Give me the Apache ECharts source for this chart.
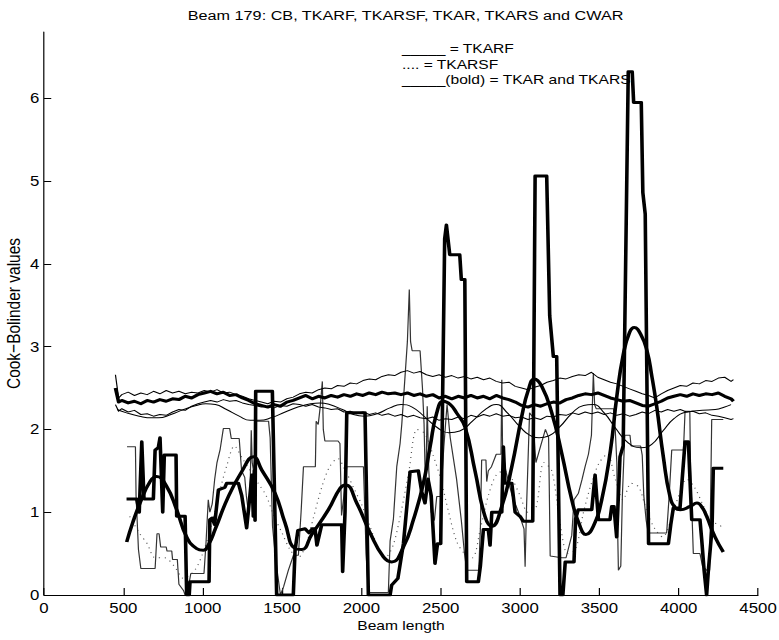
<!DOCTYPE html>
<html>
<head>
<meta charset="utf-8">
<script src="https://cdn.jsdelivr.net/npm/echarts@6/dist/echarts.min.js"></script>
<style>
  html, body { margin: 0; padding: 0; background: #fff; overflow: hidden; }
  #wrap { width: 779px; height: 640px; overflow: hidden; position: relative; }
  /* figure is laid out narrow and widened, like a resized MATLAB window */
  #chart { width: 649px; height: 640px; transform: scaleX(1.2); transform-origin: 0 0; }
</style>
</head>
<body>
<div id="wrap"><div id="chart"></div></div>
<script>
// ---- axis ticks ----
const xTicks = [0, 500, 1000, 1500, 2000, 2500, 3000, 3500, 4000, 4500];
const yTicks = [0, 1, 2, 3, 4, 5, 6];

// ---- TKAR: bold stepped curve ----
const tkar = [
  [520,1.16],[584,1.16],[600,1.0],[616,1.85],[630,1.16],[689,1.16],[700,1.75],[720,1.78],[731,1.9],[748,1.0],
  [758,1.69],[832,1.69],[836,0.95],[889,0.95],[899,0],[915,0],[920,0.16],[1040,0.16],[1045,0.91],[1060,0.93],
  [1075,0.85],[1099,1.27],[1140,1.3],[1151,1.35],[1225,1.35],[1246,1.2],[1277,0.81],[1300,1.25],[1310,1.45],[1319,0.95],
  [1325,1.5],[1330,0.9],[1334,2.46],[1439,2.46],[1466,0],[1571,0],[1582,0.54],[1600,0.78],[1645,0.8],[1670,0.75],
  [1690,0.8],[1708,0.8],[1720,0.6],[1750,0.85],[1876,0.85],[1882,0.28],[1897,1.0],[1908,2.2],[2023,2.2],[2044,0],
  [2181,0],[2191,0.12],[2230,0.2],[2265,0.62],[2307,1.49],[2359,1.5],[2380,1.25],[2401,1.11],[2420,1.4],[2440,1.2],
  [2464,0.38],[2480,0.62],[2500,0.62],[2525,4.3],[2536,4.47],[2557,4.11],[2620,4.11],[2630,3.81],[2652,3.81],[2664,0.16],
  [2737,0.16],[2750,0.35],[2769,0.79],[2800,0.79],[2811,0.6],[2822,1.0],[2885,1.0],[2895,1.79],[2905,1.35],[2948,1.35],
  [2969,1.0],[3000,0.95],[3021,0.89],[3080,0.89],[3095,5.06],[3168,5.06],[3187,3.37],[3210,2.88],[3231,2.88],[3252,0],
  [3270,0],[3285,0.4],[3340,0.4],[3350,0.92],[3367,1.03],[3452,1.03],[3473,1.45],[3494,0.91],[3567,0.91],[3578,1.07],
  [3592,1.07],[3599,0.91],[3609,0.7],[3630,1.67],[3650,1.8],[3682,6.32],[3707,6.32],[3716,5.95],[3764,5.95],[3774,4.86],
  [3789,4.6],[3810,0.62],[3935,0.62],[3950,0.85],[3966,1.05],[4008,1.05],[4040,1.85],[4061,1.85],[4082,0.91],[4134,0.91],
  [4145,0.67],[4160,0.3],[4176,0],[4187,0.3],[4210,0.8],[4218,1.53],[4281,1.53]
];

// ---- TKARS: bold smooth curve ----
const tkars = [
  [521,0.64],[560,0.88],[605,1.11],[668,1.37],[710,1.43],[773,1.31],[836,1.03],[899,0.7],[962,0.56],[1004,0.54],
  [1040,0.62],[1078,0.79],[1162,1.19],[1246,1.49],[1319,1.67],[1372,1.51],[1456,1.23],[1519,0.87],[1582,0.56],[1624,0.55],
  [1687,0.73],[1792,1.03],[1866,1.29],[1900,1.33],[1971,1.11],[2055,0.75],[2139,0.46],[2191,0.40],[2265,0.58],[2328,0.91],
  [2391,1.35],[2433,1.79],[2475,2.2],[2517,2.34],[2560,2.3],[2600,2.2],[2653,2.03],[2716,1.5],[2779,0.95],[2822,0.83],
  [2885,1.07],[2948,1.55],[3011,2.16],[3053,2.48],[3090,2.61],[3137,2.52],[3200,2.2],[3263,1.71],[3326,1.15],[3378,0.83],
  [3415,0.73],[3462,0.83],[3515,1.15],[3570,1.75],[3610,2.4],[3650,2.9],[3690,3.17],[3720,3.23],[3760,3.15],[3800,2.95],
  [3830,2.65],[3861,2.28],[3903,1.67],[3945,1.19],[3980,1.05],[4010,1.03],[4071,1.07],[4115,1.11],[4150,1.05],[4176,0.95],
  [4229,0.7],[4281,0.52]
];

// ---- TKARF: thin stepped curve ----
const tkarf = [
  [523,1.79],[576,1.79],[580,1.2],[595,0.55],[610,0.32],[700,0.32],[712,0.74],[725,0.74],[735,0.58],[770,0.58],
  [775,0.53],[805,0.53],[810,0.43],[840,0.43],[850,0.13],[880,0.05],[889,0],[910,0.1],[925,0.26],[1008,0.26],
  [1020,0.6],[1035,1.15],[1045,1.0],[1060,1.1],[1075,1.39],[1090,1.6],[1110,1.76],[1130,2.01],[1170,2.01],[1180,1.89],
  [1230,1.89],[1245,1.5],[1265,1.42],[1275,1.2],[1290,0.97],[1300,1.4],[1306,1.99],[1312,1.6],[1320,1.5],[1330,1.7],
  [1337,2.1],[1415,2.1],[1425,1.9],[1440,0.83],[1455,0.53],[1470,0.28],[1490,0],[1510,0.1],[1540,0.3],[1572,0.48],
  [1603,0.48],[1620,1.0],[1635,1.55],[1710,1.55],[1715,2.1],[1728,2.06],[1740,2.26],[1754,2.58],[1760,2.0],[1770,1.86],
  [1853,1.86],[1865,1.83],[1875,0.96],[1890,1.2],[1908,1.55],[2013,1.55],[2030,0.5],[2044,0.03],[2170,0.03],[2181,0.65],
  [2202,0.92],[2223,1.55],[2244,1.83],[2255,2.07],[2290,3.06],[2302,3.69],[2310,3.06],[2320,2.95],[2370,2.95],[2385,2.5],
  [2395,2.07],[2405,1.2],[2415,2.28],[2425,1.5],[2440,1.0],[2460,0.9],[2475,1.19],[2500,1.19],[2520,1.8],[2540,2.3],
  [2560,1.9],[2600,1.4],[2630,0.9],[2650,0.5],[2664,0.3],[2740,0.3],[2750,0.8],[2758,1.63],[2785,1.63],[2790,1.37],
  [2800,1.5],[2820,1.55],[2850,1.7],[2880,1.7],[2885,2.6],[2890,1.75],[2910,1.5],[2950,1.2],[2990,1.0],[3025,0.8],
  [3032,0.34],[3040,1.0],[3060,2.2],[3080,2.15],[3100,1.6],[3130,1.8],[3160,2.0],[3180,1.9],[3190,0.47],[3263,0.45],
  [3290,0.45],[3326,0.72],[3340,1.15],[3368,1.23],[3390,1.39],[3410,1.55],[3431,1.7],[3450,1.93],[3462,2.68],[3470,2.3],
  [3480,2.25],[3590,2.25],[3600,2.0],[3610,1.6],[3615,0.8],[3620,0.3],[3635,0.35],[3645,1.2],[3660,1.93],[3693,1.93],
  [3700,1.8],[3760,1.8],[3770,1.69],[3780,1.2],[3795,0.9],[3808,0.75],[3924,0.75],[3940,1.2],[3956,1.75],[4030,1.75],
  [4040,2.22],[4070,2.22],[4075,1.5],[4085,0.91],[4092,0.5],[4134,0.5],[4150,0.35],[4175,0.3],[4195,0.3],[4208,2.12],
  [4281,2.12]
];

// ---- TKARSF: dotted curve ----
const tkarsf = [
  [540,0.95],[600,0.75],[650,0.62],[700,0.45],[760,0.45],[820,0.35],[880,0.2],[950,0.3],[1000,0.5],[1050,0.8],
  [1100,1.2],[1150,1.55],[1200,1.8],[1250,1.65],[1300,1.5],[1350,1.35],[1400,1.2],[1450,0.95],[1500,0.75],[1550,0.55],
  [1600,0.45],[1650,0.6],[1700,0.95],[1750,1.3],[1800,1.55],[1850,1.65],[1900,1.5],[1950,1.3],[2000,1.1],[2050,0.85],
  [2100,0.6],[2150,0.45],[2200,0.6],[2250,1.0],[2300,1.5],[2350,2.0],[2400,1.95],[2450,1.7],[2500,1.4],[2550,1.0],
  [2600,0.65],[2650,0.5],[2700,0.45],[2750,0.8],[2800,1.2],[2850,1.45],[2900,1.5],[2950,1.4],[3000,1.2],[3050,1.0],
  [3100,1.05],[3150,1.6],[3200,1.5],[3250,0.9],[3300,0.5],[3350,0.55],[3400,1.0],[3450,1.35],[3500,1.6],[3550,1.7],
  [3600,1.4],[3650,1.15],[3700,1.35],[3750,1.3],[3800,1.0],[3850,0.8],[3900,0.7],[3950,0.9],[4000,1.2],[4050,1.4],
  [4100,1.3],[4150,1.1],[4200,0.9],[4250,0.85],[4275,0.82]
];

// ---- CB band: shared sample positions ----
const bandX = [
  450,470,490,530,570,610,650,690,730,770,810,850,890,930,970,1010,1050,1090,1130,1170,
  1210,1250,1290,1330,1370,1410,1450,1490,1530,1570,1610,1650,1690,1730,1770,1810,1850,1890,1930,1970,
  2010,2050,2090,2130,2170,2210,2250,2290,2330,2370,2410,2450,2490,2530,2570,2610,2650,2690,2730,2770,
  2810,2850,2890,2930,2970,3010,3050,3090,3130,3170,3210,3250,3290,3330,3370,3410,3450,3490,3530,3570,
  3610,3650,3690,3730,3770,3810,3850,3890,3930,3970,4010,4050,4090,4130,4170,4210,4250,4290,4330,4345
];
// CB: thick noisy line
const cbY = [
  2.50,2.33,2.35,2.32,2.34,2.31,2.35,2.33,2.36,2.34,2.37,2.36,2.40,2.38,2.42,2.44,2.46,2.43,2.45,2.41,
  2.42,2.38,2.35,2.31,2.29,2.27,2.30,2.28,2.33,2.35,2.38,2.41,2.37,2.40,2.38,2.41,2.39,2.42,2.40,2.43,
  2.41,2.44,2.42,2.45,2.43,2.44,2.42,2.44,2.41,2.43,2.40,2.42,2.38,2.40,2.37,2.40,2.38,2.41,2.38,2.40,
  2.37,2.41,2.38,2.36,2.33,2.29,2.27,2.30,2.28,2.31,2.33,2.32,2.36,2.38,2.41,2.43,2.42,2.44,2.41,2.38,
  2.36,2.34,2.35,2.32,2.29,2.28,2.31,2.34,2.38,2.40,2.42,2.40,2.43,2.41,2.43,2.42,2.44,2.40,2.37,2.34
];
// upper bound: thin noisy line
const upperY = [
  2.66,2.38,2.42,2.45,2.41,2.44,2.42,2.46,2.43,2.47,2.44,2.46,2.43,2.45,2.44,2.47,2.45,2.48,2.44,2.45,
  2.42,2.40,2.37,2.35,2.33,2.31,2.34,2.33,2.37,2.39,2.43,2.45,2.44,2.48,2.50,2.49,2.53,2.52,2.56,2.55,
  2.59,2.61,2.60,2.64,2.66,2.65,2.69,2.71,2.68,2.70,2.66,2.64,2.66,2.63,2.65,2.62,2.64,2.61,2.63,2.60,
  2.62,2.58,2.56,2.57,2.52,2.50,2.48,2.51,2.53,2.57,2.59,2.62,2.61,2.64,2.66,2.65,2.69,2.63,2.60,2.57,
  2.55,2.52,2.49,2.46,2.43,2.41,2.38,2.43,2.47,2.50,2.53,2.52,2.56,2.55,2.59,2.58,2.62,2.63,2.58,2.60
];
// lower bound: thin noisy line
const lowerY = [
  2.30,2.22,2.25,2.21,2.23,2.18,2.19,2.16,2.18,2.17,2.21,2.24,2.23,2.28,2.31,2.33,2.35,2.33,2.36,2.34,
  2.35,2.32,2.30,2.29,2.27,2.28,2.26,2.29,2.28,2.31,2.30,2.28,2.30,2.27,2.26,2.24,2.25,2.21,2.22,2.19,
  2.21,2.18,2.20,2.17,2.19,2.16,2.18,2.15,2.17,2.14,2.13,2.15,2.11,2.13,2.12,2.15,2.13,2.17,2.15,2.18,
  2.16,2.19,2.16,2.17,2.14,2.15,2.12,2.14,2.12,2.16,2.15,2.18,2.17,2.20,2.18,2.21,2.19,2.21,2.18,2.20,
  2.17,2.19,2.16,2.18,2.21,2.19,2.23,2.21,2.24,2.22,2.24,2.21,2.22,2.19,2.20,2.17,2.16,2.14,2.12,2.13
];

// ---- CWAR: thin smooth curve ----
const cwar = [
  [460,2.24],[520,2.2],[600,2.16],[680,2.14],[720,2.14],[800,2.18],[880,2.24],[960,2.29],[1020,2.31],[1080,2.3],
  [1150,2.24],[1230,2.16],[1300,2.11],[1360,2.11],[1430,2.14],[1520,2.21],[1600,2.27],[1680,2.31],[1740,2.32],[1800,2.3],
  [1880,2.24],[1950,2.18],[2020,2.16],[2100,2.19],[2180,2.26],[2250,2.3],[2320,2.27],[2400,2.15],[2480,2.02],[2550,1.96],
  [2620,1.98],[2700,2.1],[2780,2.24],[2850,2.3],[2920,2.2],[3000,2.03],[3060,1.93],[3120,1.9],[3180,1.92],[3250,2.03],
  [3330,2.2],[3400,2.29],[3460,2.3],[3530,2.2],[3600,2.02],[3680,1.84],[3760,1.78],[3830,1.82],[3900,1.98],[3970,2.13],
  [4050,2.21],[4150,2.23],[4230,2.24],[4290,2.27],[4330,2.3]
];

// ---- text ----
const titleText = 'Beam 179: CB, TKARF, TKARSF, TKAR, TKARS and CWAR';
const xName = 'Beam length';
const yName = 'Cook\u2212Bolinder values';
const keyLines = ['_____ = TKARF', '.... = TKARSF', '_____(bold) = TKAR and TKARS'];

const FONT = '"Liberation Sans", Arial, Helvetica, sans-serif';
const zip = (xs, ys) => xs.map((x, i) => [x, ys[i]]);

function lineSeries(name, data, width, opts) {
  return Object.assign({
    name: name,
    type: 'line',
    data: data,
    symbol: 'none',
    showSymbol: false,
    silent: true,
    animation: false,
    clip: true,
    lineStyle: { color: '#000', width: width, join: 'round', cap: 'butt' }
  }, opts || {});
}

const chart = echarts.init(document.getElementById('chart'), null, { renderer: 'svg' });

chart.setOption({
  backgroundColor: '#fff',
  animation: false,
  title: {
    text: titleText,
    left: 333,
    textAlign: 'center',
    top: 3,
    textStyle: { fontFamily: FONT, fontSize: 13.5, fontWeight: 'normal', color: '#000' }
  },
  grid: { left: 36.7, top: 32, width: 595, height: 563, containLabel: false, outerBoundsMode: 'none' },
  xAxis: {
    type: 'value',
    min: 0, max: 4500, interval: 500,
    name: xName,
    nameLocation: 'middle',
    nameGap: 24,
    nameMoveOverlap: false,
    nameTextStyle: { fontFamily: FONT, fontSize: 13, color: '#000' },
    axisLine: { show: true, onZero: false, lineStyle: { color: '#000', width: 1 } },
    axisTick: { show: true, inside: true, length: 7, customValues: xTicks, lineStyle: { color: '#000' } },
    axisLabel: {
      fontFamily: FONT, fontSize: 14, color: '#000', margin: 6, customValues: xTicks,
      formatter: v => String(v)
    },
    splitLine: { show: false }
  },
  yAxis: {
    type: 'value',
    min: 0, max: 6.8, interval: 1,
    name: yName,
    nameLocation: 'middle',
    nameRotate: 90,
    nameGap: 17,
    nameMoveOverlap: false,
    nameTextStyle: { fontFamily: FONT, fontSize: 15.5, color: '#000' },
    axisLine: { show: true, onZero: false, lineStyle: { color: '#000', width: 1 } },
    axisTick: { show: true, inside: true, length: 6, customValues: yTicks, lineStyle: { color: '#000' } },
    axisLabel: {
      fontFamily: FONT, fontSize: 14, color: '#000', margin: 4, customValues: yTicks,
      formatter: v => String(v)
    },
    splitLine: { show: false }
  },
  graphic: keyLines.map((t, i) => ({
    type: 'text',
    left: 335,
    top: 42 + i * 15.5,
    silent: true,
    style: { text: t, font: '13px ' + FONT, fill: '#000' }
  })),
  series: [
    lineSeries('TKARSF', tkarsf, 1, { smooth: 0.3, lineStyle: { color: '#555', width: 1, type: [1, 4] } }),
    lineSeries('TKARF', tkarf, 1, { lineStyle: { color: '#333', width: 1 } }),
    lineSeries('upper', zip(bandX, upperY), 1),
    lineSeries('lower', zip(bandX, lowerY), 1),
    lineSeries('CWAR', cwar, 1, { smooth: 0.5 }),
    lineSeries('CB', zip(bandX, cbY), 3),
    lineSeries('TKARS', tkars, 3, { smooth: 0.5 }),
    lineSeries('TKAR', tkar, 3)
  ]
});
</script>
</body>
</html>
